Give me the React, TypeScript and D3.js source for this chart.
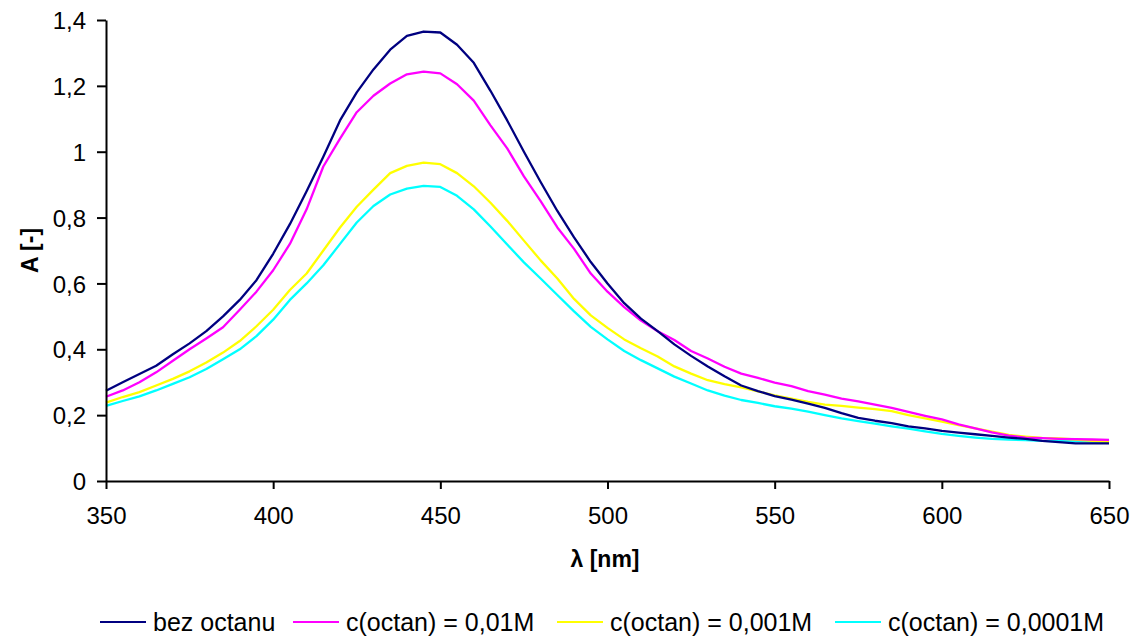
import * as d3 from "d3";
import { useEffect, useRef } from "react";

const wavelengths = d3.range(350, 651, 5);

const bezOctanu = [
  0.274, 0.3, 0.325, 0.35, 0.385, 0.418, 0.455, 0.5, 0.55, 0.61,
  0.69, 0.78, 0.88, 0.985, 1.095, 1.18, 1.25, 1.31, 1.352, 1.365,
  1.362, 1.325, 1.27, 1.185, 1.095, 1.0, 0.908, 0.82, 0.74, 0.665,
  0.6, 0.54, 0.493, 0.455, 0.415, 0.38, 0.348, 0.318, 0.29, 0.273,
  0.258, 0.247, 0.235, 0.222, 0.206, 0.192, 0.183, 0.176, 0.166, 0.16,
  0.152, 0.147, 0.142, 0.137, 0.132, 0.128, 0.122, 0.118, 0.114, 0.114,
  0.114,
];
const octan001 = [
  0.256, 0.275, 0.3, 0.33, 0.365, 0.4, 0.433, 0.467, 0.52, 0.575,
  0.64, 0.72, 0.825, 0.955, 1.04, 1.12, 1.17, 1.207, 1.235, 1.243,
  1.238, 1.205, 1.155, 1.08, 1.01, 0.925, 0.85, 0.77, 0.705, 0.63,
  0.575, 0.528, 0.487, 0.455, 0.428, 0.395, 0.372, 0.347, 0.326, 0.313,
  0.299, 0.288, 0.273, 0.262, 0.25, 0.242, 0.232, 0.222, 0.21, 0.198,
  0.187, 0.172, 0.16, 0.148, 0.138, 0.132, 0.13, 0.128, 0.127, 0.126,
  0.125,
];
const octan0001 = [
  0.238, 0.255, 0.27, 0.29, 0.31, 0.333, 0.36, 0.39, 0.425, 0.47,
  0.52, 0.58, 0.63, 0.7, 0.77, 0.833, 0.885, 0.935, 0.957, 0.967,
  0.962, 0.935, 0.895, 0.845, 0.79, 0.73, 0.67, 0.615, 0.553, 0.503,
  0.465, 0.43, 0.403, 0.378, 0.348, 0.326, 0.306, 0.294, 0.284, 0.272,
  0.26, 0.25, 0.24, 0.232, 0.228, 0.223, 0.218, 0.212, 0.2, 0.19,
  0.18, 0.17, 0.16, 0.15, 0.14, 0.135, 0.131, 0.129, 0.126, 0.122,
  0.119,
];
const octan00001 = [
  0.228, 0.243, 0.257, 0.275, 0.295, 0.315, 0.34, 0.37, 0.4, 0.44,
  0.49, 0.55, 0.6, 0.655, 0.72, 0.785, 0.835, 0.87, 0.888, 0.896,
  0.893, 0.866, 0.825, 0.773, 0.718, 0.664, 0.615, 0.565, 0.515, 0.468,
  0.43, 0.395, 0.367, 0.342, 0.317, 0.296, 0.275, 0.259, 0.246, 0.237,
  0.227, 0.22, 0.211, 0.2, 0.19, 0.182, 0.174, 0.166, 0.159, 0.151,
  0.143, 0.137, 0.132, 0.128, 0.126, 0.124, 0.122, 0.121, 0.121, 0.12,
  0.119,
];

const seriesNames = [
  "bez octanu",
  "c(octan) = 0,01M",
  "c(octan) = 0,001M",
  "c(octan) = 0,0001M",
];
const seriesValues = [bezOctanu, octan001, octan0001, octan00001];
const seriesColors = ["#000080", "#ff00ff", "#ffff00", "#00ffff"];

const xTicks = [350, 400, 450, 500, 550, 600, 650];
const yTicks = [0, 0.2, 0.4, 0.6, 0.8, 1, 1.2, 1.4];

// where each legend entry starts (its line sample)
const legendLineX = [100, 293, 557, 835];

const width = 1134;
const height = 637;
const plot = { left: 106, right: 1109, top: 20, bottom: 481 };
const font = "'Liberation Sans', Arial, sans-serif";

export default function App() {
  const svgRef = useRef<SVGSVGElement | null>(null);

  useEffect(() => {
    if (!svgRef.current) return;
    const svg = d3.select(svgRef.current);
    svg.selectAll("*").remove();

    const x = d3.scaleLinear().domain([350, 650]).range([plot.left, plot.right]);
    const y = d3.scaleLinear().domain([0, 1.4]).range([plot.bottom, plot.top]);
    const fmt = (d: number) => String(d).replace(".", ",");

    const line = d3
      .line<number>()
      .x((_, i) => x(wavelengths[i]))
      .y((d) => y(d));

    // cyan first so navy ends up on top
    const order = [3, 2, 1, 0];
    svg
      .append("g")
      .selectAll("path")
      .data(order)
      .join("path")
      .attr("fill", "none")
      .attr("stroke", (i) => seriesColors[i])
      .attr("stroke-width", 2.3)
      .attr("stroke-linejoin", "round")
      .attr("d", (i) => line(seriesValues[i]));

    const xAxis = svg
      .append("g")
      .attr("transform", `translate(0, ${plot.bottom})`)
      .call(d3.axisBottom(x).tickValues(xTicks).tickSize(8).tickSizeOuter(0).tickFormat((d) => String(d)));
    xAxis.select(".domain").attr("stroke", "#000").attr("stroke-width", 2);
    xAxis.selectAll(".tick line").attr("stroke", "#000").attr("stroke-width", 2);
    xAxis
      .selectAll(".tick text")
      .attr("fill", "#000")
      .attr("dy", null)
      .attr("y", 43)
      .style("font-family", font)
      .style("font-size", "24px");

    const yAxis = svg
      .append("g")
      .attr("transform", `translate(${plot.left}, 0)`)
      .call(d3.axisLeft(y).tickValues(yTicks).tickSize(9).tickSizeOuter(0).tickFormat((d) => fmt(d as number)));
    yAxis.select(".domain").attr("stroke", "#000").attr("stroke-width", 2);
    yAxis.selectAll(".tick line").attr("stroke", "#000").attr("stroke-width", 2);
    yAxis
      .selectAll(".tick text")
      .attr("fill", "#000")
      .attr("x", -20)
      .attr("dy", "0.36em")
      .style("font-family", font)
      .style("font-size", "24px");

    svg
      .append("text")
      .attr("transform", `translate(38, ${(plot.top + plot.bottom) / 2}) rotate(-90)`)
      .attr("text-anchor", "middle")
      .style("font-family", font)
      .style("font-size", "23px")
      .style("font-weight", "bold")
      .text("A [-]");

    svg
      .append("text")
      .attr("x", 605)
      .attr("y", 567)
      .attr("text-anchor", "middle")
      .style("font-family", font)
      .style("font-size", "23px")
      .style("font-weight", "bold")
      .text("λ [nm]");

    const legend = svg
      .append("g")
      .selectAll("g")
      .data(seriesNames)
      .join("g")
      .attr("transform", (_, i) => `translate(${legendLineX[i]}, 622)`);
    legend
      .append("line")
      .attr("x1", 0)
      .attr("x2", 46)
      .attr("stroke", (_, i) => seriesColors[i])
      .attr("stroke-width", 2);
    legend
      .append("text")
      .attr("x", 53)
      .attr("y", 9)
      .style("font-family", font)
      .style("font-size", "25px")
      .text((d) => d);
  }, []);

  return (
    <div style={{ position: "absolute", left: 0, top: 0, width, height, background: "#fff" }}>
      <svg ref={svgRef} width={width} height={height} />
    </div>
  );
}
